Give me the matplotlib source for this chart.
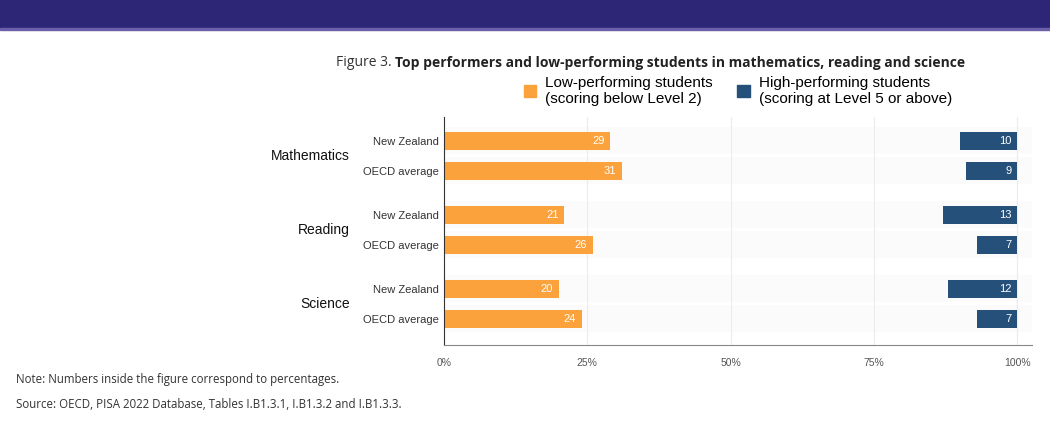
import numpy as np
import matplotlib.pyplot as plt
from matplotlib.patches import Rectangle, Patch

# values in percent
subjects = ['Mathematics', 'Reading', 'Science']
rows = ['New Zealand', 'OECD average']
low_perf = [29, 31, 21, 26, 20, 24]
high_perf = [10, 9, 13, 7, 12, 7]
xticks = [0, 25, 50, 75, 100]
xticklabels = ['0%', '25%', '50%', '75%', '100%']

orange = '#fca23c'
blue = '#24507a'

# bar positions: two rows per subject, gap between subjects
ypos = []
for g in range(len(subjects)):
    for r in range(len(rows)):
        ypos.append(g * 2.47 + r)
ypos = np.array(ypos)

fig = plt.figure(figsize=(10.5, 4.42), dpi=100)
fig.patches.append(Rectangle((0, 1 - 28 / 442), 1, 28 / 442, transform=fig.transFigure,
                             color='#2d2677', zorder=0))
fig.patches.append(Rectangle((0, 1 - 30 / 442), 1, 2 / 442, transform=fig.transFigure,
                             color='#6a5fa8', zorder=0))

ax = fig.add_axes([444 / 1050, 1 - 345 / 442, 588 / 1050, 228 / 442])

# faint row bands
for y in ypos:
    ax.axhspan(y - 0.45, y + 0.45, color='#fbfbfb', zorder=0, lw=0)
for x in xticks[1:]:
    ax.axvline(x, color='#ececec', lw=0.8, zorder=0.5)

ax.barh(ypos, low_perf, height=0.6, color=orange, zorder=2)
ax.barh(ypos, high_perf, left=[100 - v for v in high_perf], height=0.6, color=blue, zorder=2)

for y, v in zip(ypos, low_perf):
    ax.text(v - 1.0, y, str(v), color='white', ha='right', va='center', fontsize=8,
            family='Liberation Sans', zorder=3)
for y, v in zip(ypos, high_perf):
    ax.text(99.0, y, str(v), color='white', ha='right', va='center', fontsize=8,
            family='Liberation Sans', zorder=3)

ax.set_xlim(0, 102.6)
ax.set_ylim(ypos[-1] + 0.87, -0.8)
ax.set_xticks(xticks)
ax.set_xticklabels(xticklabels, family='Liberation Sans', fontsize=7.5, color='#555555')
ax.set_yticks(ypos)
ax.set_yticklabels(rows * len(subjects), family='Liberation Sans', fontsize=8, color='#333333')
ax.tick_params(axis='y', length=0, pad=4)
ax.tick_params(axis='x', length=0, pad=9)
for s in ['top', 'right']:
    ax.spines[s].set_visible(False)
ax.spines['left'].set_color('#333333')
ax.spines['bottom'].set_color('#888888')

for g, name in enumerate(subjects):
    yc = (ypos[2 * g] + ypos[2 * g + 1]) / 2
    ax.text(-0.16, yc, name, transform=ax.get_yaxis_transform(), ha='right', va='center',
            fontsize=10, family='Liberation Sans', color='#111111')

# legend
handles = [Patch(color=orange), Patch(color=blue)]
labels = ['Low-performing students\n(scoring below Level 2)',
          'High-performing students\n(scoring at Level 5 or above)']
fig.legend(handles, labels, ncol=2, loc='center left', bbox_to_anchor=(524 / 1050, 1 - 91 / 442),
           frameon=False, handlelength=0.8, handleheight=0.8, handletextpad=0.6,
           columnspacing=1.6, borderpad=0, borderaxespad=0,
           prop={'family': 'Liberation Sans', 'size': 11})

# title: normal + bold part
t1 = fig.text(336 / 1050, 1 - 63 / 442, 'Figure 3. ', family='Open Sans', fontsize=10,
              color='#333333', va='center')
fig.canvas.draw()
bb = t1.get_window_extent()
fig.text(bb.x1 / 1050, 1 - 63 / 442,
         'Top performers and low-performing students in mathematics, reading and science',
         family='Open Sans', fontsize=10, weight='bold', color='#222222', va='center')

fig.text(16 / 1050, 1 - 379 / 442, 'Note: Numbers inside the figure correspond to percentages.',
         family='Open Sans', fontsize=8.3, color='#333333', va='center')
fig.text(16 / 1050, 1 - 405 / 442, 'Source: OECD, PISA 2022 Database, Tables I.B1.3.1, I.B1.3.2 and I.B1.3.3.',
         family='Open Sans', fontsize=8.3, color='#333333', va='center')

fig.savefig('out.png', dpi=100)
